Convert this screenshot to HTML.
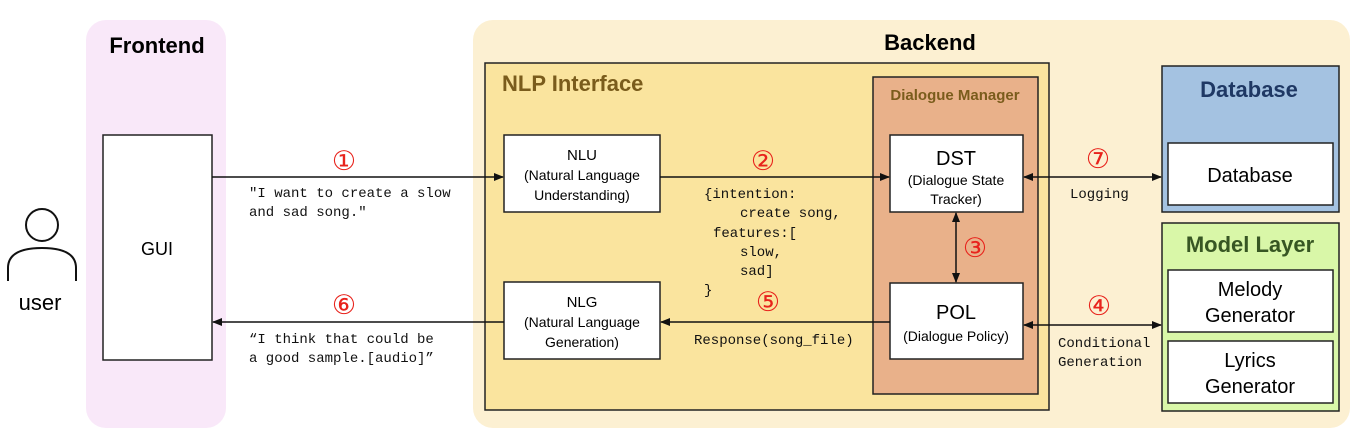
<!DOCTYPE html>
<html><head><meta charset="utf-8"><style>
html,body{margin:0;padding:0;background:#fff;width:1368px;height:446px;overflow:hidden}
svg text{font-family:"Liberation Sans","DejaVu Sans",sans-serif}
.m{font-family:"Liberation Mono","DejaVu Sans Mono",monospace;font-size:14px;fill:#111;font-weight:500}
.n{fill:#e8231c;font-size:27px;text-anchor:middle;font-family:"DejaVu Sans",sans-serif}
</style></head><body>
<svg width="1368" height="446" viewBox="0 0 1368 446" xmlns="http://www.w3.org/2000/svg">
<defs><marker id="a" markerWidth="10" markerHeight="10" refX="9" refY="5" orient="auto-start-reverse" markerUnits="userSpaceOnUse"><path d="M0,1 L10,5 L0,9 z" fill="#111"/></marker></defs>
<rect x="86" y="20" width="140" height="408" rx="20" fill="#f9e8f9"/>
<text x="157" y="53" font-size="22" font-weight="bold" text-anchor="middle">Frontend</text>
<rect x="473" y="20" width="877" height="408" rx="20" fill="#fcf0d2"/>
<text x="930" y="50" font-size="22" font-weight="bold" text-anchor="middle">Backend</text>
<rect x="485" y="63" width="564" height="347" fill="#fae49e" stroke="#222" stroke-width="1.5"/>
<text x="502" y="91" font-size="22" font-weight="bold" fill="#7a5c1c">NLP Interface</text>
<rect x="873" y="77" width="165" height="317" fill="#e9b18a" stroke="#222" stroke-width="1.5"/>
<text x="955" y="100" font-size="15" font-weight="bold" fill="#7a5c1c" text-anchor="middle">Dialogue Manager</text>
<rect x="1162" y="66" width="177" height="146" fill="#a4c2e1" stroke="#222" stroke-width="1.5"/>
<text x="1249" y="97" font-size="22" font-weight="bold" fill="#1f3864" text-anchor="middle">Database</text>
<rect x="1168" y="143" width="165" height="62" fill="#fff" stroke="#222" stroke-width="1.5"/>
<text x="1250" y="182" font-size="20" text-anchor="middle">Database</text>
<rect x="1162" y="223" width="177" height="188" fill="#d9f7a8" stroke="#222" stroke-width="1.5"/>
<text x="1250" y="252" font-size="22" font-weight="bold" fill="#375623" text-anchor="middle">Model Layer</text>
<rect x="1168" y="270" width="165" height="62" fill="#fff" stroke="#222" stroke-width="1.5"/>
<text x="1250" y="296" font-size="20" text-anchor="middle">Melody</text>
<text x="1250" y="322" font-size="20" text-anchor="middle">Generator</text>
<rect x="1168" y="341" width="165" height="62" fill="#fff" stroke="#222" stroke-width="1.5"/>
<text x="1250" y="367" font-size="20" text-anchor="middle">Lyrics</text>
<text x="1250" y="393" font-size="20" text-anchor="middle">Generator</text>
<rect x="103" y="135" width="109" height="225" fill="#fff" stroke="#222" stroke-width="1.5"/>
<text x="157" y="255" font-size="18" text-anchor="middle">GUI</text>
<circle cx="42" cy="225" r="16" fill="none" stroke="#111" stroke-width="2"/>
<path d="M8,281 L8,268 Q8,248 42,248 Q76,248 76,268 L76,281" fill="none" stroke="#111" stroke-width="2"/>
<text x="40" y="310" font-size="22" text-anchor="middle">user</text>
<rect x="504" y="135" width="156" height="77" fill="#fff" stroke="#222" stroke-width="1.5"/>
<text x="582" y="160" font-size="15" text-anchor="middle">NLU</text>
<text x="582" y="180" font-size="14" text-anchor="middle">(Natural Language</text>
<text x="582" y="200" font-size="14" text-anchor="middle">Understanding)</text>
<rect x="504" y="282" width="156" height="77" fill="#fff" stroke="#222" stroke-width="1.5"/>
<text x="582" y="307" font-size="15" text-anchor="middle">NLG</text>
<text x="582" y="327" font-size="14" text-anchor="middle">(Natural Language</text>
<text x="582" y="347" font-size="14" text-anchor="middle">Generation)</text>
<rect x="890" y="135" width="133" height="77" fill="#fff" stroke="#222" stroke-width="1.5"/>
<text x="956" y="165" font-size="20" text-anchor="middle">DST</text>
<text x="956" y="185" font-size="14" text-anchor="middle">(Dialogue State</text>
<text x="956" y="204" font-size="14" text-anchor="middle">Tracker)</text>
<rect x="890" y="283" width="133" height="76" fill="#fff" stroke="#222" stroke-width="1.5"/>
<text x="956" y="319" font-size="20" text-anchor="middle">POL</text>
<text x="956" y="341" font-size="14" text-anchor="middle">(Dialogue Policy)</text>
<g stroke="#111" stroke-width="1.5" fill="none">
<line x1="212" y1="177" x2="503" y2="177" marker-end="url(#a)"/>
<line x1="660" y1="177" x2="889" y2="177" marker-end="url(#a)"/>
<line x1="1024" y1="177" x2="1161" y2="177" marker-start="url(#a)" marker-end="url(#a)"/>
<line x1="956" y1="213" x2="956" y2="282" marker-start="url(#a)" marker-end="url(#a)"/>
<line x1="890" y1="322" x2="661" y2="322" marker-end="url(#a)"/>
<line x1="504" y1="322" x2="213" y2="322" marker-end="url(#a)"/>
<line x1="1024" y1="325" x2="1161" y2="325" marker-start="url(#a)" marker-end="url(#a)"/>
</g>
<text class="n" x="344" y="170">①</text>
<text class="n" x="763" y="170">②</text>
<text class="n" x="975" y="257">③</text>
<text class="n" x="1099" y="315">④</text>
<text class="n" x="768" y="311">⑤</text>
<text class="n" x="344" y="314">⑥</text>
<text class="n" x="1098" y="168">⑦</text>
<text class="m" x="249" y="197">"I want to create a slow</text>
<text class="m" x="249" y="216">and sad song."</text>
<text class="m" x="249" y="343">“I think that could be</text>
<text class="m" x="249" y="362">a good sample.[audio]”</text>
<text class="m" x="704" y="198">{intention:</text>
<text class="m" x="740" y="217">create song,</text>
<text class="m" x="713" y="237">features:[</text>
<text class="m" x="740" y="256">slow,</text>
<text class="m" x="740" y="275">sad]</text>
<text class="m" x="704" y="294">}</text>
<text class="m" x="694" y="344">Response(song_file)</text>
<text class="m" x="1070" y="198">Logging</text>
<text class="m" x="1058" y="347">Conditional</text>
<text class="m" x="1058" y="366">Generation</text>
</svg>
</body></html>
